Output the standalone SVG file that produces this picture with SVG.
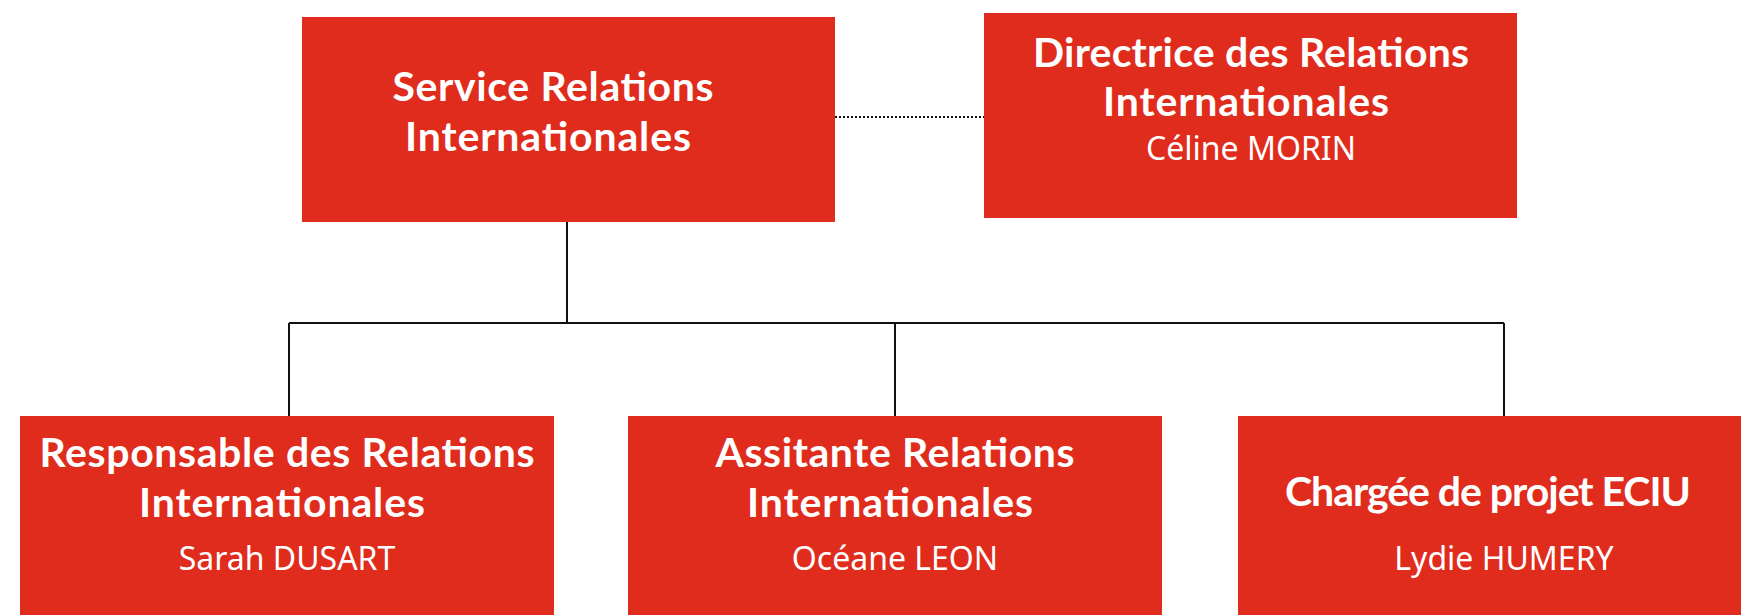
<svg xmlns="http://www.w3.org/2000/svg" width="1741" height="615" viewBox="0 0 1741 615">
<style>
.box{fill:#E02C1D}
.t{font-family:Lato,"Noto Sans",sans-serif;font-weight:bold;font-size:41px;fill:#fff;text-anchor:middle}
.n{font-family:"Noto Sans","Open Sans",sans-serif;font-size:32px;fill:#fff;text-anchor:middle}
.c{stroke:#111;stroke-width:2;fill:none}
.d{stroke:#111;stroke-width:2;stroke-dasharray:2 2;fill:none}
</style>
<rect width="1741" height="615" fill="#fff"/>
<g id="connectors">
<path class="d" d="M835 117H984"/>
<path class="c" d="M567 222V323M289 323H1504M289 323V416M895 323V416M1504 323V416"/>
</g>
<g id="service">
<rect class="box" x="302" y="17" width="533" height="205"/>
<text class="t" x="553" y="101" textLength="321">Service Relations</text>
<text class="t" x="548" y="151" textLength="286">Internationales</text>
</g>
<g id="directrice">
<rect class="box" x="984" y="13" width="533" height="205"/>
<text class="t" x="1251" y="67" textLength="436">Directrice des Relations</text>
<text class="t" x="1246" y="116" textLength="286">Internationales</text>
<text class="n" x="1251" y="160">Céline MORIN</text>
</g>
<g id="responsable">
<rect class="box" x="20" y="416" width="534" height="199"/>
<text class="t" x="287" y="467" textLength="495">Responsable des Relations</text>
<text class="t" x="282" y="517" textLength="286">Internationales</text>
<text class="n" x="287" y="570">Sarah DUSART</text>
</g>
<g id="assistante">
<rect class="box" x="628" y="416" width="534" height="199"/>
<text class="t" x="895" y="467" textLength="359">Assitante Relations</text>
<text class="t" x="890" y="517" textLength="286">Internationales</text>
<text class="n" x="895" y="570">Océane LEON</text>
</g>
<g id="chargee">
<rect class="box" x="1238" y="416" width="503" height="199"/>
<text class="t" x="1488" y="506" textLength="406">Chargée de projet ECIU</text>
<text class="n" x="1504" y="570">Lydie HUMERY</text>
</g>
</svg>
